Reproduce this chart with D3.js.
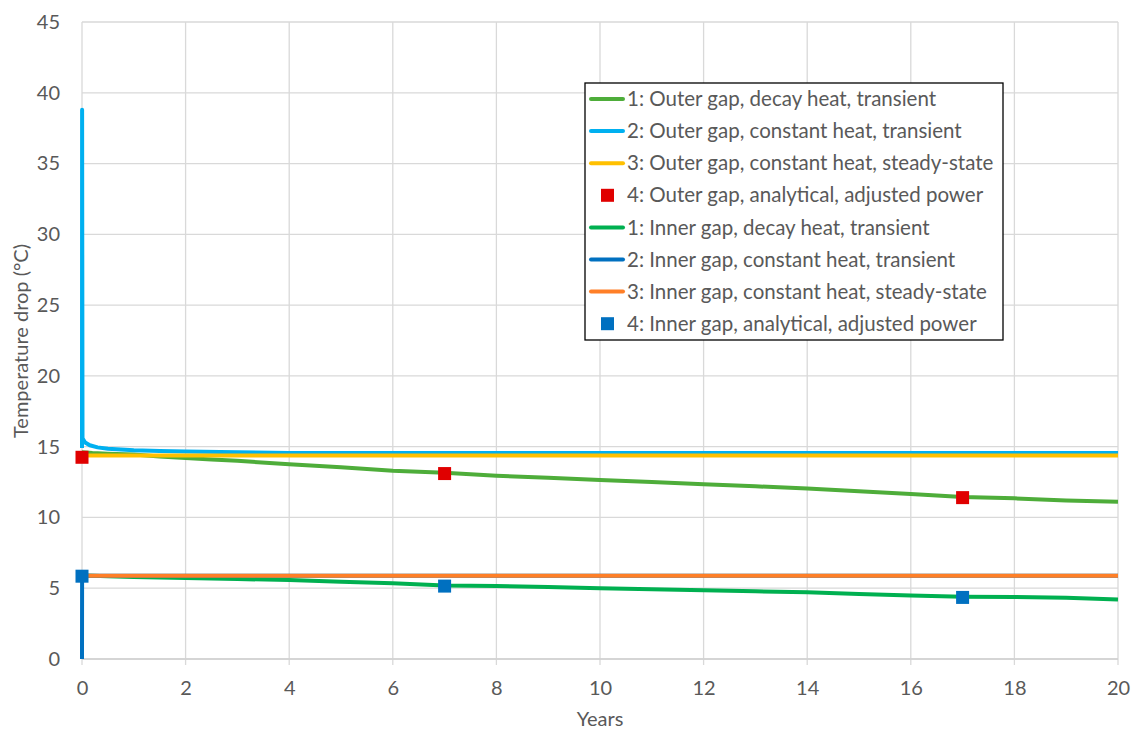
<!DOCTYPE html>
<html>
<head>
<meta charset="utf-8">
<script src="https://cdn.jsdelivr.net/npm/d3@7"></script>
<style>
  body { margin: 0; background: #fff; }
  text { font-family: Lato, "Open Sans", sans-serif; fill: #595959; }
</style>
</head>
<body>
<div class="chart"></div>
<script>
// years sampled for the decay-heat curves
var yearsDecay = [0, 0.2, 0.5, 1, 1.5, 2, 2.5, 3, 4, 5, 6, 7, 8, 9, 10, 11, 12, 13, 14, 15, 16, 17, 18, 19, 20];
var outerDecay = [14.6, 14.55, 14.5, 14.45, 14.3, 14.2, 14.1, 14.0, 13.75, 13.55, 13.3, 13.15, 12.95, 12.8, 12.65, 12.5, 12.35, 12.2, 12.05, 11.85, 11.65, 11.45, 11.35, 11.2, 11.1];
var innerDecay = [5.9, 5.88, 5.85, 5.8, 5.75, 5.72, 5.68, 5.65, 5.58, 5.45, 5.35, 5.2, 5.15, 5.08, 5.0, 4.93, 4.85, 4.78, 4.72, 4.6, 4.48, 4.4, 4.38, 4.33, 4.2];

// constant heat transient
var yearsOuterConst = [0, 0.002, 0.01, 0.06, 0.15, 0.3, 0.5, 1, 1.5, 2, 3, 4, 6, 10, 20];
var outerConst = [14.9, 38.8, 15.6, 15.3, 15.1, 14.95, 14.85, 14.75, 14.7, 14.65, 14.6, 14.55, 14.55, 14.55, 14.55];
var yearsInnerConst = [0, 0.002, 0.1, 20];
var innerConst = [0, 5.88, 5.88, 5.88];

// steady state
var yearsSteady = [0, 20];
var outerSteady = [14.38, 14.38];
var innerSteady = [5.88, 5.88];

// analytical points
var yearsAnalytical = [0, 7, 17];
var outerAnalytical = [14.25, 13.1, 11.4];
var innerAnalytical = [5.85, 5.15, 4.35];

var xTicks = [0, 2, 4, 6, 8, 10, 12, 14, 16, 18, 20];
var yTicks = [0, 5, 10, 15, 20, 25, 30, 35, 40, 45];

var series = [
  { name: "1: Outer gap, decay heat, transient", type: "line", color: "#4ead3a", x: yearsDecay, y: outerDecay },
  { name: "2: Outer gap, constant heat, transient", type: "line", color: "#00b0f0", x: yearsOuterConst, y: outerConst },
  { name: "3: Outer gap, constant heat, steady-state", type: "line", color: "#ffc000", x: yearsSteady, y: outerSteady },
  { name: "4: Outer gap, analytical, adjusted power", type: "marker", color: "#e00000", x: yearsAnalytical, y: outerAnalytical },
  { name: "1: Inner gap, decay heat, transient", type: "line", color: "#00b050", x: yearsDecay, y: innerDecay },
  { name: "2: Inner gap, constant heat, transient", type: "line", color: "#0070c0", x: yearsInnerConst, y: innerConst },
  { name: "3: Inner gap, constant heat, steady-state", type: "line", color: "#ff7f27", x: yearsSteady, y: innerSteady },
  { name: "4: Inner gap, analytical, adjusted power", type: "marker", color: "#0070c0", x: yearsAnalytical, y: innerAnalytical }
];

var width = 1134, height = 729;
var margin = { top: 22, right: 16, bottom: 70, left: 82 };
var w = width - margin.left - margin.right,
    h = height - margin.top - margin.bottom;

var x = d3.scaleLinear().domain([0, 20]).range([0, w]);
var y = d3.scaleLinear().domain([0, 45]).range([h, 0]);

var svg = d3.select(".chart").append("svg")
    .attr("width", width)
    .attr("height", height);
var g = svg.append("g")
    .attr("transform", "translate(" + margin.left + "," + margin.top + ")");

// gridlines
g.append("g").selectAll("line").data(yTicks).enter().append("line")
    .attr("x1", 0).attr("x2", w)
    .attr("y1", function (d) { return y(d); }).attr("y2", function (d) { return y(d); })
    .attr("stroke", "#d9d9d9").attr("stroke-width", 1.3);
g.append("g").selectAll("line").data(xTicks).enter().append("line")
    .attr("x1", function (d) { return x(d); }).attr("x2", function (d) { return x(d); })
    .attr("y1", 0).attr("y2", h + 6)
    .attr("stroke", "#d9d9d9").attr("stroke-width", 1.3);

// axes
var xAxis = g.append("g")
    .attr("transform", "translate(0," + h + ")")
    .call(d3.axisBottom(x).tickValues(xTicks).tickSize(0).tickPadding(22).tickFormat(d3.format("d")));
var yAxis = g.append("g")
    .call(d3.axisLeft(y).tickValues(yTicks).tickSize(0).tickPadding(22));
[xAxis, yAxis].forEach(function (a) {
    a.select(".domain").remove();
    a.selectAll("text").style("font-size", "20px").attr("fill", "#595959")
        .style("font-family", "Lato, 'Open Sans', sans-serif");
});
g.append("line").attr("x1", 0).attr("x2", w).attr("y1", h).attr("y2", h)
    .attr("stroke", "#d0d0d0").attr("stroke-width", 1.5);

// series
var line = d3.line()
    .x(function (d) { return x(d[0]); })
    .y(function (d) { return y(d[1]); });

series.forEach(function (s) {
    var pts = s.x.map(function (v, i) { return [v, s.y[i]]; });
    if (s.type === "line") {
        g.append("path").datum(pts)
            .attr("fill", "none")
            .attr("stroke", s.color)
            .attr("stroke-width", 4)
            .attr("stroke-linejoin", "round")
            .attr("d", line);
    } else {
        g.selectAll(null).data(pts).enter().append("rect")
            .attr("x", function (d) { return x(d[0]) - 6.5; })
            .attr("y", function (d) { return y(d[1]) - 6.5; })
            .attr("width", 13).attr("height", 13)
            .attr("fill", s.color);
    }
});

// axis titles
svg.append("text")
    .attr("x", margin.left + x(10)).attr("y", 726)
    .attr("text-anchor", "middle")
    .style("font-size", "20px")
    .text("Years");
svg.append("text")
    .attr("transform", "translate(28,341) rotate(-90)")
    .attr("text-anchor", "middle")
    .style("font-size", "20px")
    .text("Temperature drop (°C)");

// legend
var legend = svg.append("g").attr("transform", "translate(585,83)");
legend.append("rect")
    .attr("width", 418).attr("height", 257)
    .attr("fill", "#fff").attr("stroke", "#000").attr("stroke-width", 1.3);
series.forEach(function (s, i) {
    var row = legend.append("g").attr("transform", "translate(0," + (16 + i * 32.1) + ")");
    if (s.type === "line") {
        row.append("line").attr("x1", 6).attr("x2", 38).attr("y1", 0).attr("y2", 0)
            .attr("stroke", s.color).attr("stroke-width", 4).attr("stroke-linecap", "round");
    } else {
        row.append("rect").attr("x", 16).attr("y", -6.5).attr("width", 13).attr("height", 13)
            .attr("fill", s.color);
    }
    row.append("text").attr("x", 42).attr("y", 0).attr("dy", "0.35em")
        .style("font-size", "20.5px")
        .text(s.name);
});
</script>
</body>
</html>
